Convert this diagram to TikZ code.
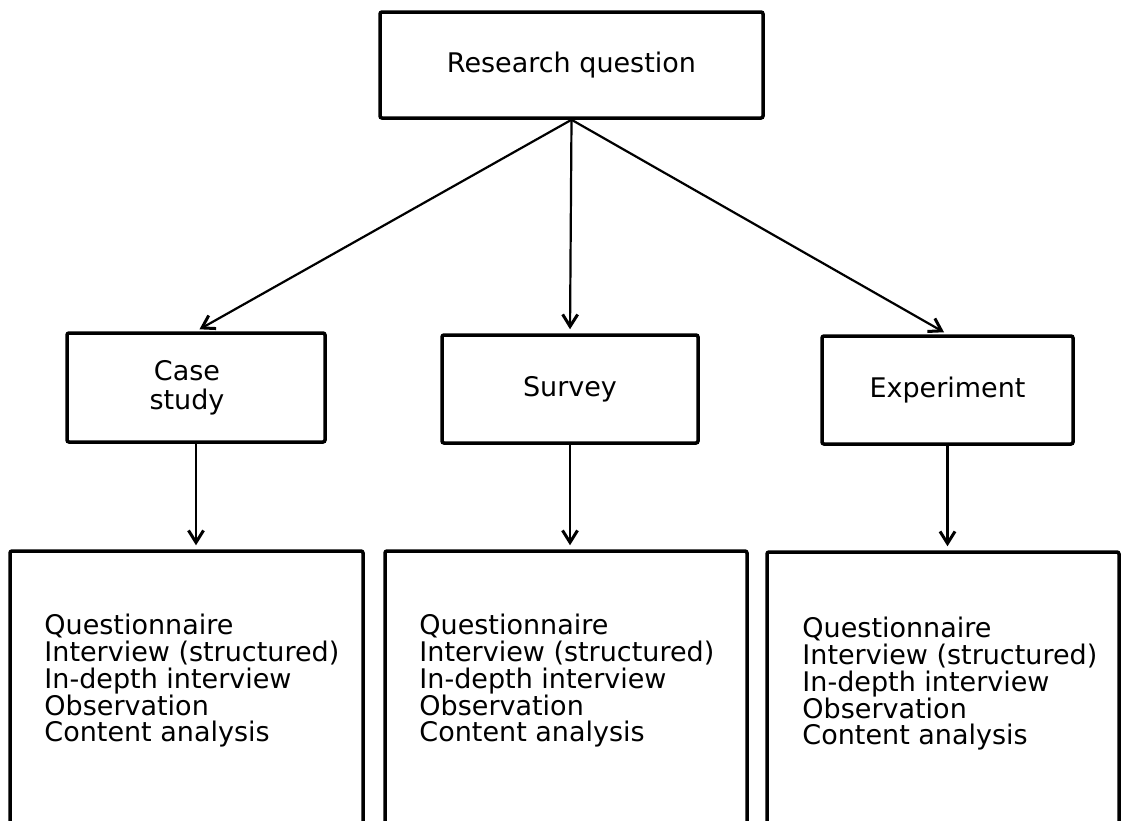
\documentclass[tikz,border=0pt]{standalone}
\usepackage{fontspec}
\setmainfont{DejaVu Sans}
\usetikzlibrary{arrows.meta}

\begin{document}
\begin{tikzpicture}[x=1pt, y=-1pt, flow/.style={-{Straight Barb[length=12pt, width=15pt, line width=3pt]}, line width=2.2pt, shorten >=4pt}]
        \tikzset{boite/.style={rectangle, draw=black, line width=3.5pt, rounded corners=2pt, inner sep=0pt, align=center, font=\fontsize{27}{29}\selectfont},
                 liste/.style={anchor=north west, inner sep=0pt, align=left, font=\fontsize{27}{26.75}\selectfont}};
        \useasboundingbox (0,0) rectangle (1121,820);
        \clip (0,0) rectangle (1121,820);

        \node[boite, minimum width=383pt, minimum height=106pt] (rq) at (571.5, 65) {Research question};

        \node[boite, minimum width=258pt, minimum height=109pt] (cs) at (196, 387.5) {Case\hspace*{18pt}\\study\hspace*{18pt}};
        \node[boite, minimum width=256pt, minimum height=108pt] (sv) at (570, 389) {Survey};
        \node[boite, minimum width=251pt, minimum height=108pt] (ex) at (947.5, 390) {Experiment};
        \draw (rq.south) edge[flow] (cs.north) edge[flow] (sv.north) edge[flow] (ex.north);

        \node[boite, minimum width=353pt, minimum height=280pt] (csbox) at (186.5, 691) {};
        \node[boite, minimum width=362pt, minimum height=280pt] (svbox) at (566, 691) {};
        \node[boite, minimum width=352pt, minimum height=280pt] (exbox) at (943, 692) {};
        \draw[flow] (cs.south) -- (cs.south |- csbox.north);
        \draw[flow] (sv.south) -- (sv.south |- svbox.north);
        \draw[flow] (ex.south) -- (ex.south |- exbox.north);

        \node[liste, xshift=36pt, yshift=-65pt] (cslist) at (csbox.north west) {Questionnaire\\Interview (structured)\\In-depth interview\\Observation\\Content analysis};
        \node[liste, xshift=36pt, yshift=-65pt] (svlist) at (svbox.north west) {Questionnaire\\Interview (structured)\\In-depth interview\\Observation\\Content analysis};
        \node[liste, xshift=37pt, yshift=-67pt] (exlist) at (exbox.north west) {Questionnaire\\Interview (structured)\\In-depth interview\\Observation\\Content analysis};
\end{tikzpicture}
\end{document}
